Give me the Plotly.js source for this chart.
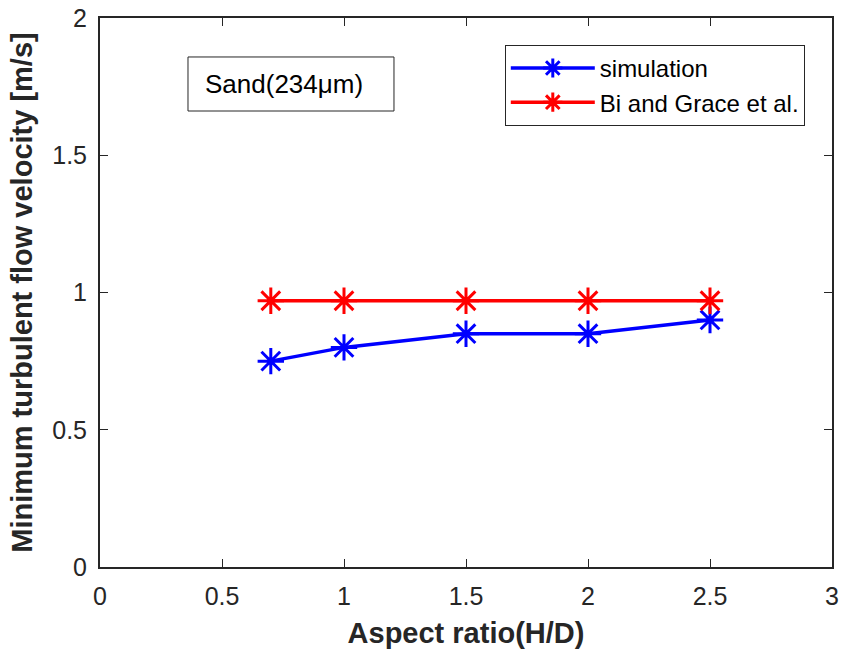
<!DOCTYPE html>
<html><head><meta charset="utf-8">
<script src="https://cdn.plot.ly/plotly-3.0.1.min.js"></script>
<style>body{margin:0;background:#fff}#c{width:842px;height:655px}</style>
</head><body><div id="c"></div>
<script>
const aspectRatio = [0.7, 1, 1.5, 2, 2.5];
const simulation = [0.75, 0.80, 0.85, 0.85, 0.90];
const biGrace = [0.97, 0.97, 0.97, 0.97, 0.97];
const xTicks = [0, 0.5, 1, 1.5, 2, 2.5, 3];
const yTicks = [0, 0.5, 1, 1.5, 2];

const FONT = 'Liberation Sans, Arial';
const mk = (c) => ({symbol: 'asterisk-open', size: 22, line: {color: c, width: 3}, color: c});
const traces = [
  {x: aspectRatio, y: simulation, name: 'simulation', mode: 'lines+markers',
   line: {color: '#0000ff', width: 3.5}, marker: mk('#0000ff')},
  {x: aspectRatio, y: biGrace, name: 'Bi and Grace et al.', mode: 'lines+markers',
   line: {color: '#ff0000', width: 3.5}, marker: mk('#ff0000')}
];
const axBase = {
  showline: true, mirror: 'ticks', linecolor: '#262626', linewidth: 2,
  ticks: 'inside', ticklen: 8, tickwidth: 1.2, tickcolor: '#262626',
  showgrid: false, zeroline: false,
  tickfont: {family: FONT, size: 25, color: '#262626'}
};
const layout = {
  width: 842, height: 655,
  margin: {l: 100, r: 10, t: 18, b: 88},
  paper_bgcolor: '#fff', plot_bgcolor: '#fff',
  showlegend: true,
  legend: {x: 0.553, y: 0.951, xanchor: 'left', yanchor: 'top',
    bordercolor: '#262626', borderwidth: 1, bgcolor: '#fff',
    font: {family: FONT, size: 24, color: '#000'},
    itemwidth: 84,
    tracegroupgap: 0},
  xaxis: Object.assign({}, axBase, {range: [0, 3], tickvals: xTicks, ticktext: xTicks.map(String),
    ticklabelstandoff: 6,
    title: {text: '<b>Aspect ratio(H/D)</b>', standoff: 14,
      font: {family: FONT, size: 29, color: '#262626'}}}),
  yaxis: Object.assign({}, axBase, {range: [0, 2], tickvals: yTicks, ticktext: yTicks.map(String),
    ticklabelstandoff: 6,
    title: {text: '<b>Minimum turbulent flow velocity [m/s]</b>', standoff: 11,
      font: {family: FONT, size: 29, color: '#262626'}}}),
  shapes: [{type: 'rect', xref: 'paper', yref: 'paper', x0: 0.1202, x1: 0.4016, y0: 0.8306, y1: 0.929,
    line: {color: '#262626', width: 1}, fillcolor: '#fff', layer: 'above'}],
  annotations: [{
    xref: 'paper', yref: 'paper', x: 0.1407, y: 0.8798, xanchor: 'left', yanchor: 'middle',
    text: 'Sand(234μm)', showarrow: false,
    font: {family: FONT, size: 26, color: '#000'}
  }]
};
Plotly.newPlot('c', traces, layout, {displayModeBar: false});
</script></body></html>
